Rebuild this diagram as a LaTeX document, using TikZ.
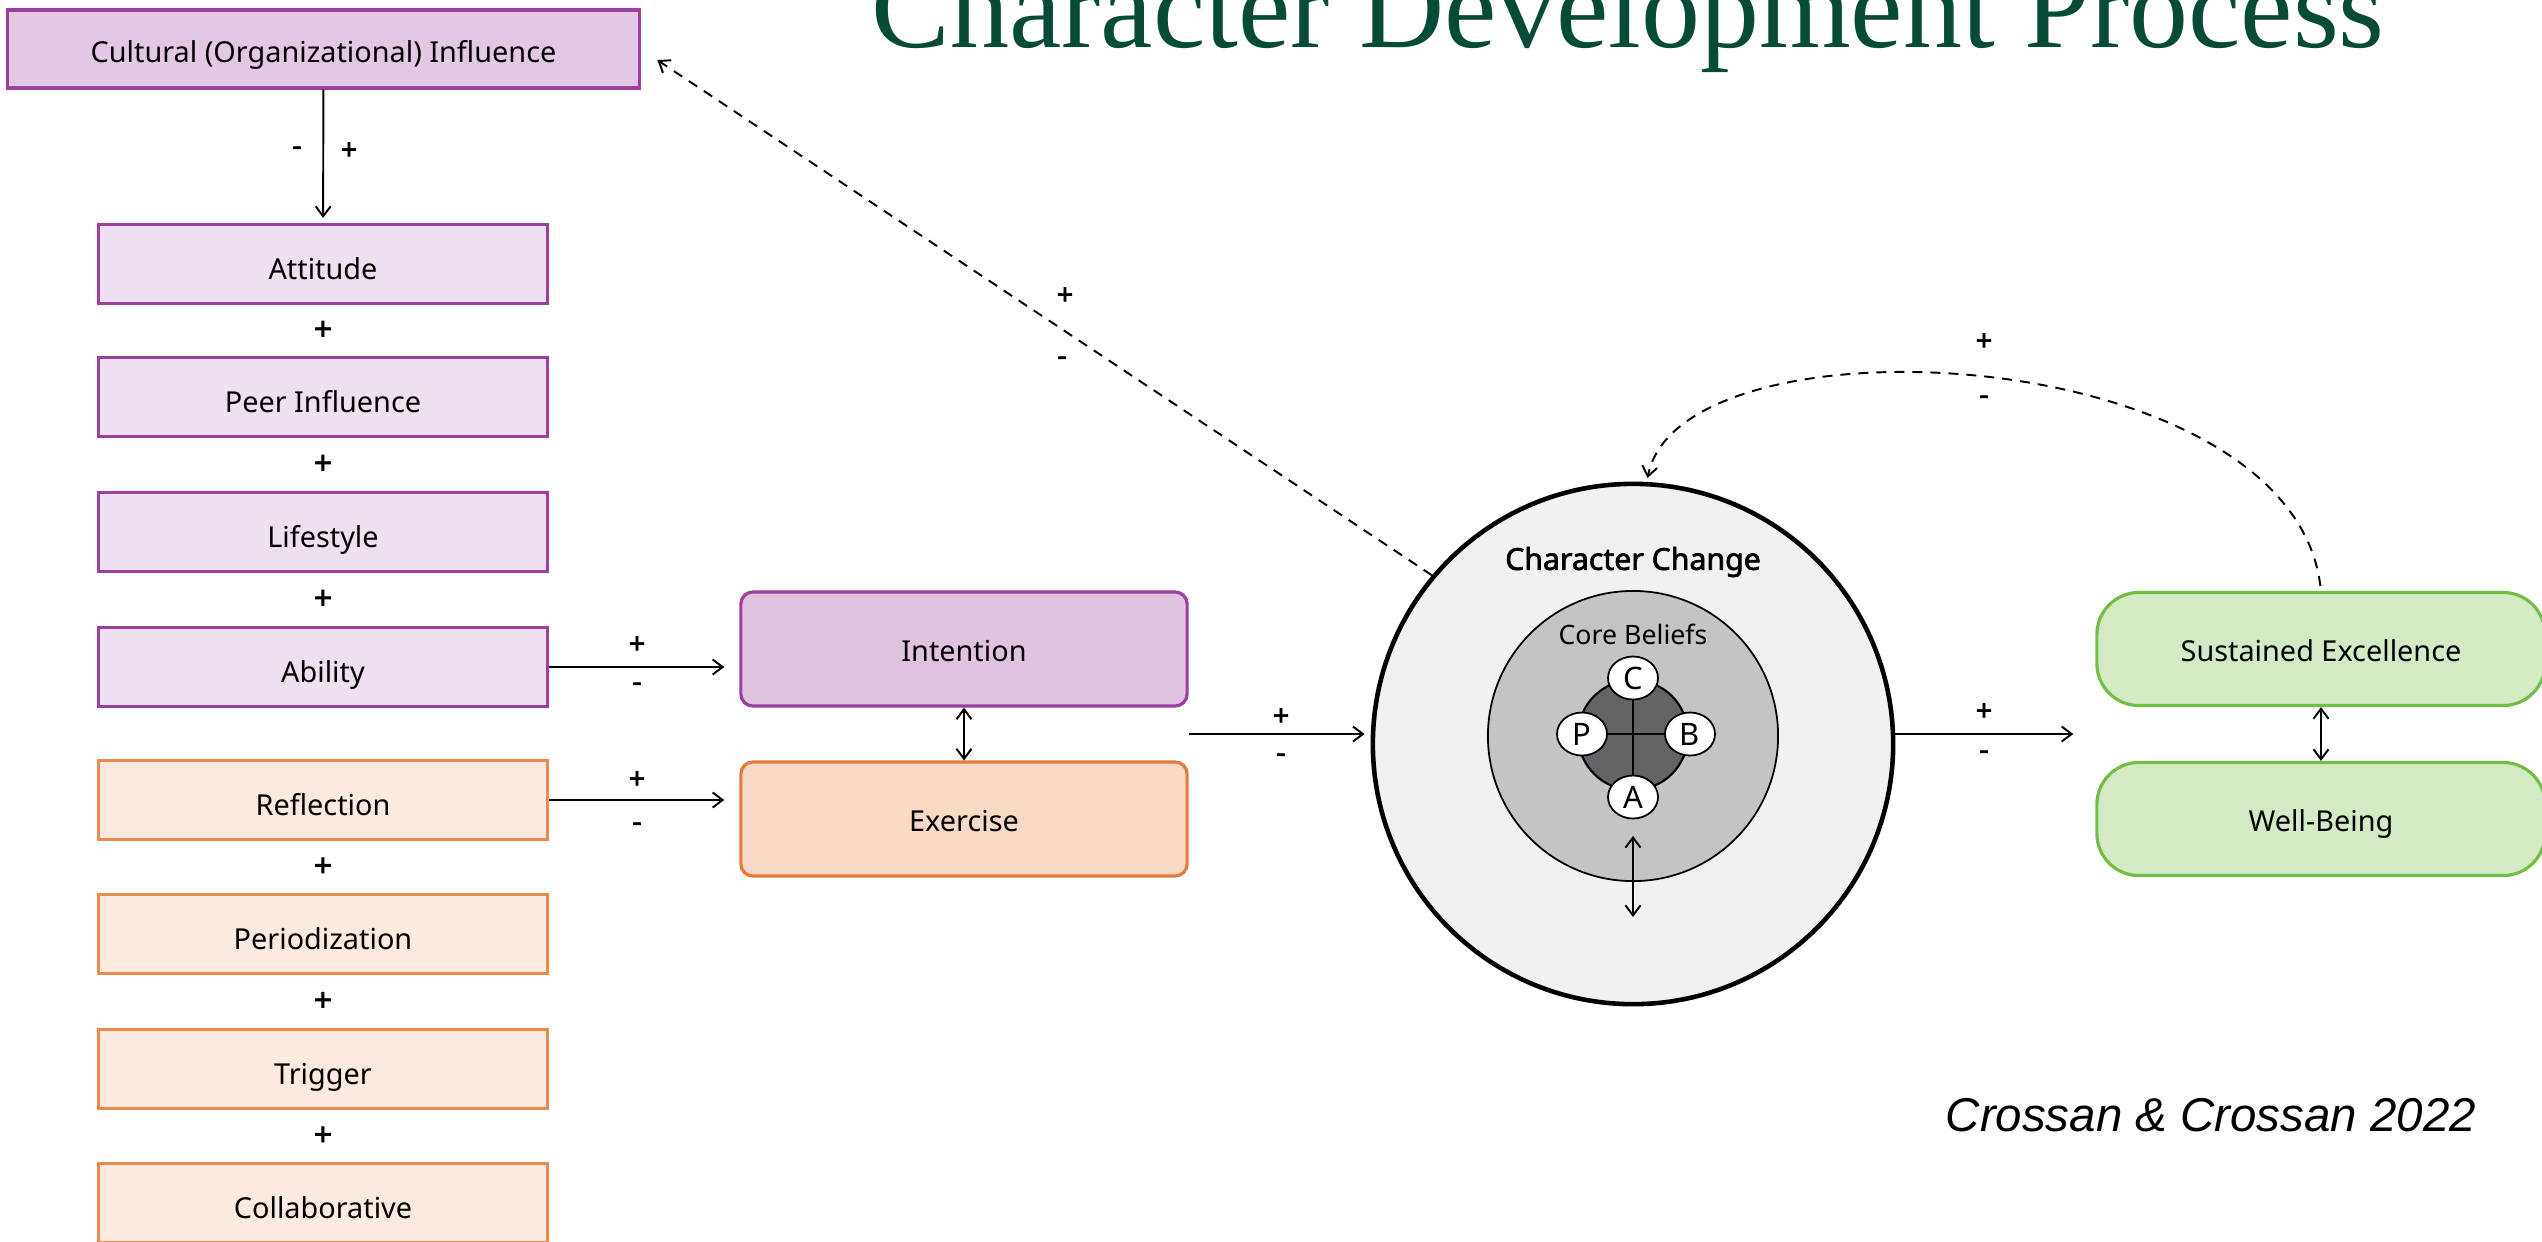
\documentclass[tikz,border=0pt]{standalone}
\usepackage{fontspec}
\setmainfont{Noto Sans}
\newfontfamily\strongfont{Noto Sans}[FakeBold=2.2]
\newfontfamily\headingfont{Liberation Serif}
\newfontfamily\citationfont{Liberation Sans}
\usetikzlibrary{arrows.meta,shapes.geometric,calc}

\definecolor{plumline}{HTML}{9C3F9E}
\definecolor{plumdark}{HTML}{E2C8E2}
\definecolor{plumlight}{HTML}{EEE0EE}
\definecolor{plummid}{HTML}{E0C3DF}
\definecolor{orangeline}{HTML}{EC8A4E}
\definecolor{orangelight}{HTML}{FAEADF}
\definecolor{orangemid}{HTML}{F8D9C5}
\definecolor{orangedark}{HTML}{E27B3C}
\definecolor{greenline}{HTML}{72BE45}
\definecolor{greenfill}{HTML}{D4EAC4}
\definecolor{titlegreen}{HTML}{064A38}
\definecolor{ringfill}{HTML}{F2F0F1}
\definecolor{corefill}{HTML}{C4C4C4}
\definecolor{hubfill}{HTML}{646367}

\begin{document}
\begin{tikzpicture}[x=0.01cm, y=-0.01cm,
  boxtext/.style={inner sep=0pt, font=\fontsize{8.2}{10}\selectfont, text depth=0pt},
  factor/.style={draw, line width=0.9pt, minimum width=4.48cm, minimum height=0.79cm,
    boxtext, text height=9pt},
  attfactor/.style={factor, draw=plumline, fill=plumlight},
  pracfactor/.style={factor, draw=orangeline, fill=orangelight},
  stage/.style={draw, line width=0.9pt, rounded corners=0.12cm, minimum width=4.46cm,
    minimum height=1.14cm, boxtext, text height=7pt},
  outcome/.style={draw=greenline, fill=greenfill, line width=0.9pt, rounded corners=0.42cm,
    minimum width=4.48cm, minimum height=1.13cm, boxtext, text height=7pt},
  link/.style={line width=0.55pt, -{Straight Barb[length=1mm,width=1.5mm]}},
  twoway/.style={line width=0.55pt, {Straight Barb[length=1mm,width=1.5mm]}-{Straight Barb[length=1mm,width=1.5mm]}},
  feedback/.style={line width=0.55pt, dash pattern=on 1mm off 0.8mm, -{Straight Barb[length=1mm,width=1.5mm]}},
  sign/.style={inner sep=0pt, font=\strongfont\fontsize{8.2}{10}\selectfont},
  joiner/.style={inner sep=0pt, font=\strongfont\fontsize{9}{10}\selectfont},
  letter/.style={ellipse, draw, fill=white, line width=0.5pt, minimum width=0.5cm,
    minimum height=0.43cm, inner sep=0pt, font=\fontsize{8.8}{10}\selectfont},
]
\useasboundingbox (0,0) rectangle (2542,1241);

% title, running off the top edge
\node[anchor=base west, inner sep=0pt, text=titlegreen] (title) at (871,47)
  {\resizebox{15.12cm}{!}{\headingfont Character Development Process}};

% left column of factors
\node[factor, draw=plumline, fill=plumdark, minimum width=6.31cm, minimum height=0.78cm,
  text height=7.6pt] (cult) at (323.5,49) {Cultural (Organizational) Influence};
\node[attfactor] (att)  at (323,264)  {Attitude};
\node[attfactor] (peer) at (323,397)  {Peer Influence};
\node[attfactor] (life) at (323,532)  {Lifestyle};
\node[attfactor] (abil) at (323,667)  {Ability};
\node[pracfactor] (refl) at (323,800)  {Reflection};
\node[pracfactor] (peri) at (323,934)  {Periodization};
\node[pracfactor] (trig) at (323,1069) {Trigger};
\node[pracfactor] (coll) at (323,1203) {Collaborative};

\foreach \a/\b in {att/peer, peer/life, life/abil, refl/peri, peri/trig, trig/coll}
  \node[joiner] at ($(\a.south)!0.5!(\b.north)$) {+};

\draw[link, shorten >=0.05cm] (cult) -- (att);
\node[sign] at (297,151) {-};
\node[sign] at (349,151) {+};

% intention and exercise
\node[stage, draw=plumline, fill=plummid] (int) at (964,649) {Intention};
\node[stage, draw=orangedark, fill=orangemid] (ex) at (964,819) {Exercise};
\draw[twoway] (int.south) -- (ex.north);

\draw[link, shorten >=0.15cm] (abil.east) -- (abil.east -| int.west);
\node[sign] at (637,645) {+};
\node[sign] at (637,687) {-};
\draw[link, shorten >=0.15cm] (refl.east) -- (refl.east -| ex.west);
\node[sign] at (637,780) {+};
\node[sign] at (637,827) {-};

% character change rings
\node[circle, draw, line width=1.3pt, fill=ringfill, minimum size=5.2cm, inner sep=0pt]
  (cc) at (1633,744) {};
\node[circle, draw, line width=0.5pt, fill=corefill, minimum size=2.9cm, inner sep=0pt]
  (core) at (1633,736) {};
\node[circle, draw, line width=0.6pt, fill=hubfill, minimum size=1.1cm, inner sep=0pt]
  (hub) at (1633,735) {};
\node[font=\strongfont\fontsize{8.6}{10}\selectfont] (cctitle) at (1633,562) {Character Change};
\node[font=\fontsize{7.6}{10}\selectfont] (coretitle) at (1633,634) {Core Beliefs};

\coordinate (cpos) at (1633,678);
\coordinate (apos) at (1633,797);
\coordinate (ppos) at (1582,734);
\coordinate (bpos) at (1690,734);
\draw[line width=0.6pt] (cpos) -- (apos);
\draw[line width=0.6pt] (ppos) -- (bpos);
\node[letter] (lc) at (cpos) {C};
\node[letter] (la) at (apos) {A};
\node[letter] (lp) at (ppos) {P};
\node[letter] (lb) at (bpos) {B};

\coordinate (coreup) at (1633,836);
\coordinate (coredown) at (1633,917);
\draw[twoway] (coreup) -- (coredown);

% into the rings
\coordinate (ie) at ($(int.south east)!0.5!(ex.north east)$);
\draw[link, shorten >=0.06cm] (ie) -- (ie -| cc.west);
\node[sign] at (1281,717) {+};
\node[sign] at (1281,758) {-};

% outcomes
\node[outcome] (se) at (2321,649) {Sustained Excellence};
\node[outcome] (wb) at (2321,819) {Well-Being};
\draw[twoway] (se.south) -- (wb.north);

\coordinate (sw) at ($(se.south west)!0.5!(wb.north west)$);
\draw[link, shorten >=0.22cm] (cc.east |- sw) -- (sw);
\node[sign] at (1984,712) {+};
\node[sign] at (1984,755) {-};

% feedback loops
\draw[feedback, shorten <=0.05cm, shorten >=0.04cm]
  (se.north) .. controls (2290,340) and (1680,310) .. (cc.87);
\node[sign] at (1984,342) {+};
\node[sign] at (1984,400) {-};

\draw[feedback, shorten >=0.2cm] (cc.140) -- (cult.east);
\node[sign] at (1065,296) {+};
\node[sign] at (1062,361) {-};

% citation
\node[anchor=base west, inner sep=0pt, font=\citationfont\itshape\fontsize{13.5}{16}\selectfont]
  (cite) at (1945,1131) {Crossan \& Crossan 2022};
\end{tikzpicture}
\end{document}
